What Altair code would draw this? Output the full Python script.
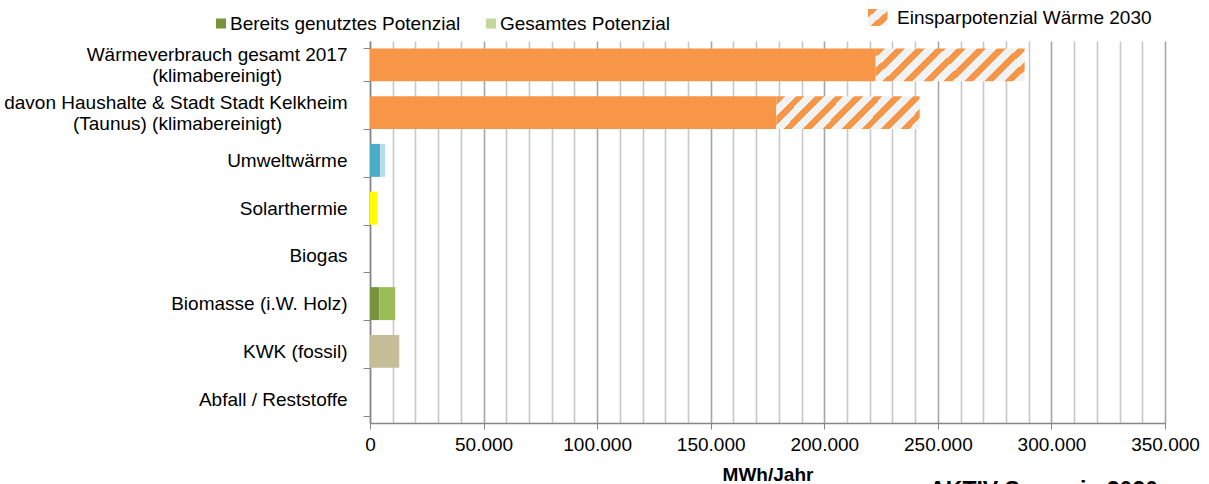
import altair as alt
import pandas as pd

# ---- data ----
categories = [
    "Wärmeverbrauch gesamt 2017|(klimabereinigt)",
    "davon Haushalte & Stadt Stadt Kelkheim|(Taunus) (klimabereinigt)",
    "Umweltwärme",
    "Solarthermie",
    "Biogas",
    "Biomasse (i.W. Holz)",
    "KWK (fossil)",
    "Abfall / Reststoffe",
]
# end of first (used / consumption 2030) segment, MWh/Jahr
genutzt = [222600, 178900, 4500, 3100, 0, 4100, 12900, 0]
# end of total (potential / consumption 2017) segment, MWh/Jahr
gesamt = [288200, 242000, 6700, 3100, 0, 11100, 12900, 0]
keys = ["waerme", "haushalte", "umwelt", "solar", "biogas", "biomasse", "kwk", "abfall"]
hatched_rows = ["waerme", "haushalte"]

legend_labels = ["Bereits genutztes Potenzial", "Gesamtes Potenzial"]
legend_hatch_label = "Einsparpotenzial Wärme 2030"
note_label = "AKTIV Szenario 2030"
x_ticks = list(range(0, 350001, 10000))

# ---- styles ----
FONT = "Liberation Sans"
FS = 19
ORANGE = "#F79646"
HATCH_BG = "#F2F2F2"
color_map = {
    "waerme|genutzt": ORANGE, "haushalte|genutzt": ORANGE,
    "umwelt|genutzt": "#4BACC6", "umwelt|gesamt": "#B7DEE8",
    "solar|genutzt": "#FFFF00", "solar|gesamt": "#FFFF00",
    "biogas|genutzt": "#9BBB59", "biogas|gesamt": "#9BBB59",
    "biomasse|genutzt": "#77933C", "biomasse|gesamt": "#9BBB59",
    "kwk|genutzt": "#C4BD97", "kwk|gesamt": "#C4BD97",
    "abfall|genutzt": "#C4BD97", "abfall|gesamt": "#C4BD97",
}

rows = []
for cat, key, g, t in zip(categories, keys, genutzt, gesamt):
    rows.append({"cat": cat, "key": key + "|genutzt", "start": 0, "end": g,
                 "hatch": False})
    rows.append({"cat": cat, "key": key + "|gesamt", "start": g, "end": t,
                 "hatch": key in hatched_rows})
df = pd.DataFrame(rows)
solid = df[~df["hatch"]]
hatch = df[df["hatch"]]

second_lines = pd.DataFrame(
    [{"cat": c, "line2": c.split("|")[1]} for c in categories if "|" in c]
)


def stripes(n_periods, frac_orange=0.45):
    stops = []
    k = 0
    while True:
        a = k / n_periods
        if a >= 1:
            break
        b = min((k + frac_orange) / n_periods, 1.0)
        c = min((k + 1) / n_periods, 1.0)
        stops += [alt.GradientStop(color=ORANGE, offset=a),
                  alt.GradientStop(color=ORANGE, offset=b),
                  alt.GradientStop(color=HATCH_BG, offset=b),
                  alt.GradientStop(color=HATCH_BG, offset=c)]
        k += 1
    return stops


# bar ~146 x 33 px -> 45 degree stripes
w, h = 146.0, 33.0
s = (w + h) * w / (w * w + h * h)
bar_grad = alt.LinearGradient(gradient="linear", stops=stripes(9.0),
                              x1=0, y1=0, x2=s, y2=s * h / w)
icon_grad = alt.LinearGradient(gradient="linear", stops=stripes(1.8),
                               x1=0, y1=0, x2=1, y2=1)

MULTI = "datum.value && length(split(datum.value, '|')) > 1"

x_axis = alt.Axis(
    values=x_ticks,
    labelExpr="datum.value % 50000 === 0 ? (datum.value === 0 ? '0' : "
              "format(datum.value / 1000, 'd') + '.000') : ''",
    title="MWh/Jahr",
    titleFont=FONT, titleFontSize=FS, titleFontWeight="bold", titleColor="#000",
    titlePadding=11,
    labelFont=FONT, labelFontSize=FS, labelColor="#000", labelPadding=6,
    labelFlush=False, labelOverlap=False,
    grid=True,
    gridColor={"condition": {"test": "datum.value % 50000 === 0", "value": "#A6A6A6"},
               "value": "#C8C8C8"},
    gridWidth=1.6,
    tickColor="#868686", tickSize=6,
    tickOpacity={"condition": {"test": "datum.value % 50000 === 0", "value": 1},
                 "value": 0},
    domainColor="#868686", domainWidth=1.5,
)
y_axis = alt.Axis(
    title=None, labelExpr="datum.value ? split(datum.value, '|')[0] : ''",
    labelOffset={"condition": {"test": MULTI, "value": -10}, "value": 0},
    labelFont=FONT, labelFontSize=FS, labelColor="#000",
    labelPadding=16, labelLimit=0,
    tickBand="extent", tickSize=7, tickColor="#868686",
    domainColor="#868686", domainWidth=1.5, grid=False,
)

x_scale = alt.Scale(domain=[0, 350000], nice=False, zero=True)
y_scale = alt.Scale(domain=categories, paddingInner=0.31, paddingOuter=0.155)

bars = alt.Chart(solid).mark_bar(cornerRadius=0).encode(
    x=alt.X("start:Q", scale=x_scale, axis=x_axis),
    x2="end:Q",
    y=alt.Y("cat:N", scale=y_scale, axis=y_axis, sort=categories),
    color=alt.Color("key:N", scale=alt.Scale(domain=list(color_map.keys()),
                                             range=list(color_map.values())),
                    legend=None),
)

hatch_bars = alt.Chart(hatch).mark_bar(fill=bar_grad, cornerRadius=0).encode(
    x=alt.X("start:Q", scale=x_scale, axis=x_axis),
    x2="end:Q",
    y=alt.Y("cat:N", scale=y_scale, axis=y_axis, sort=categories),
)

# second lines of the two-line category labels (centred under first line)
label2 = alt.Chart(second_lines).mark_text(
    align="right", baseline="middle", dy=11, font=FONT, fontSize=FS, color="#000"
).encode(
    x=alt.value(-88),
    y=alt.Y("cat:N", scale=y_scale, axis=y_axis, sort=categories),
    text="line2:N",
)

# ---- legend (top) ----
leg_df = pd.DataFrame({"label": legend_labels})
leg_sq1 = alt.Chart(leg_df.iloc[[0]]).mark_square(size=100, color="#77933C", opacity=1).encode(
    x=alt.value(-149), y=alt.value(-17.5))
leg_tx1 = alt.Chart(leg_df.iloc[[0]]).mark_text(
    align="left", baseline="middle", font=FONT, fontSize=FS, color="#000").encode(
    x=alt.value(-140), y=alt.value(-17.5), text="label:N")
leg_sq2 = alt.Chart(leg_df.iloc[[1]]).mark_square(size=100, color="#C3D69B", opacity=1).encode(
    x=alt.value(121), y=alt.value(-17.5))
leg_tx2 = alt.Chart(leg_df.iloc[[1]]).mark_text(
    align="left", baseline="middle", font=FONT, fontSize=FS, color="#000").encode(
    x=alt.value(130), y=alt.value(-17.5), text="label:N")

hatch_df = pd.DataFrame({"label": [legend_hatch_label]})
leg_icon = alt.Chart(hatch_df).mark_rect(fill=icon_grad).encode(
    x=alt.value(498), x2=alt.value(517.5), y=alt.value(-32), y2=alt.value(-15))
leg_tx3 = alt.Chart(hatch_df).mark_text(
    align="left", baseline="middle", font=FONT, fontSize=FS, color="#000").encode(
    x=alt.value(527), y=alt.value(-23), text="label:N")

note_df = pd.DataFrame({"label": [note_label]})
note = alt.Chart(note_df).mark_text(
    align="right", baseline="alphabetic", font=FONT, fontSize=23,
    fontWeight="bold", color="#000").encode(
    x=alt.value(788), y=alt.value(456.5), text="label:N")

chart = alt.layer(
    bars, hatch_bars, label2, leg_sq1, leg_tx1, leg_sq2, leg_tx2, leg_icon, leg_tx3, note
).properties(
    width=795, height=382,
    padding={"left": 370, "top": 41, "right": 44, "bottom": 61},
    autosize=alt.AutoSizeParams(type="none"),
    background="white",
).configure_view(stroke=None)

chart.save("out.html", embed_options={"renderer": "svg", "actions": False})
